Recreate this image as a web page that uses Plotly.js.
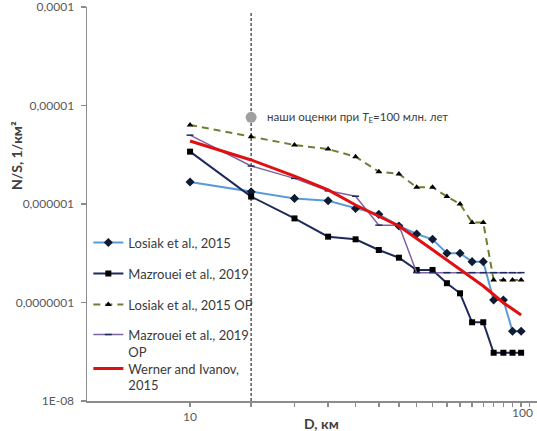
<!DOCTYPE html>
<html>
<head>
<meta charset="utf-8">
<script src="https://cdn.plot.ly/plotly-3.0.1.min.js"></script>
<style>html,body{margin:0;padding:0;background:#fff;overflow:hidden;}#chart{width:537px;height:431px;}</style>
</head>
<body>
<div id="chart"></div>
<script>
// Diameters (km)
const D = [10, 15, 20, 25, 30, 35, 40, 45, 50, 55, 60, 65, 70, 75, 80, 85, 90];
// Series values N/S (1/km^2)
const losiak = [1.67e-6, 1.33e-6, 1.14e-6, 1.08e-6, 9.0e-7, 7.85e-7, 5.98e-7, 4.96e-7, 4.38e-7, 3.16e-7, 3.16e-7, 2.6e-7, 2.6e-7, 1.06e-7, 1.06e-7, 5.1e-8, 5.1e-8];
const mazrouei = [3.4e-6, 1.19e-6, 7.14e-7, 4.66e-7, 4.38e-7, 3.41e-7, 2.85e-7, 2.14e-7, 2.14e-7, 1.57e-7, 1.24e-7, 6.3e-8, 6.3e-8, 3.09e-8, 3.09e-8, 3.09e-8, 3.09e-8];
const losiakOP = [6.34e-6, 4.82e-6, 3.97e-6, 3.61e-6, 3.02e-6, 2.13e-6, 2.02e-6, 1.48e-6, 1.48e-6, 1.19e-6, 1.0e-6, 6.5e-7, 6.5e-7, 1.69e-7, 1.69e-7, 1.69e-7, 1.69e-7];
const mazroueiOP = [5.0e-6, 2.43e-6, 1.82e-6, 1.36e-6, 1.2e-6, 6.1e-7, 6.1e-7, 2.01e-7, 2.01e-7, 2.01e-7, 2.01e-7, 2.01e-7, 2.01e-7, 2.01e-7, 2.01e-7, 2.01e-7, 2.01e-7];
const wernerD = [10, 15, 20, 25, 30, 40, 50, 60, 70, 80, 90];
const werner = [4.36e-6, 2.80e-6, 1.92e-6, 1.39e-6, 9.77e-7, 5.98e-7, 3.43e-7, 2.17e-7, 1.47e-7, 9.95e-8, 7.46e-8];
// Our estimate
const estD = [15];
const estV = [7.58e-6];
const markerLineD = [15, 15];
const markerLineV = [1e-8, 8.7e-5];
// Axis ticks
const xTickVals = [10, 15, 20, 25, 30, 35, 40, 45, 50, 55, 60, 65, 70, 75, 80, 85, 90, 95];
const xTickText = ['10', '', '', '', '', '', '', '', '', '', '', '', '', '', '', '', '', ''];
const xEndLabel = '100';
const yTickVals = [1e-8, 1e-7, 1e-6, 1e-5, 1e-4];
const yTickText = ['1E-08', '0,0000001', '0,000001', '0,00001', '0,0001'];

const FONT = 'Lato, "Liberation Sans", sans-serif';
const LFONT = {family: FONT, size: 13, color: '#3A3A3A'};

const traces = [
  {x: markerLineD, y: markerLineV, mode: 'lines', showlegend: false, hoverinfo: 'skip',
   line: {color: '#595959', width: 1.5, dash: '3px,2px'}},
  {x: estD, y: estV, mode: 'markers', showlegend: false,
   marker: {symbol: 'circle', size: 11, color: '#A0A0A0'}},
  {x: D, y: losiak, name: 'Losiak et al., 2015', legend: 'legend', mode: 'lines+markers',
   line: {color: '#5B9BD5', width: 2}, marker: {symbol: 'diamond', size: 7, color: '#0E1B33'}},
  {x: D, y: mazrouei, name: 'Mazrouei et al., 2019', legend: 'legend2', mode: 'lines+markers',
   line: {color: '#1F2A5C', width: 2}, marker: {symbol: 'square', size: 6, color: '#000000'}},
  {x: D, y: losiakOP, name: 'Losiak et al., 2015 OP', legend: 'legend3', mode: 'lines+markers',
   line: {color: '#6E7F35', width: 2, dash: '7px,5px'}, marker: {symbol: 'triangle-up', size: 6, color: '#000000'}},
  {x: D, y: mazroueiOP, name: 'Mazrouei et al., 2019<br>OP', legend: 'legend4', mode: 'lines+markers',
   line: {color: '#8064A2', width: 1.5}, marker: {symbol: 'line-ew', size: 5, color: '#1F2A5C', line: {color: '#1F2A5C', width: 1.5}}},
  {x: wernerD, y: werner, name: 'Werner and Ivanov,<br>2015', legend: 'legend5', mode: 'lines',
   line: {color: '#E01010', width: 3}}
];

function leg(y) {
  return {x: 0.003, y: y, xanchor: 'left', yanchor: 'top', valign: 'top', bgcolor: 'rgba(255,255,255,0)', font: LFONT};
}

const layout = {
  width: 537, height: 431,
  margin: {l: 87, r: 0, t: 7, b: 30},
  paper_bgcolor: '#ffffff', plot_bgcolor: '#ffffff',
  font: {family: FONT, size: 12, color: '#404040'},
  showlegend: true,
  legend: leg(0.4404),
  legend2: leg(0.3617),
  legend3: leg(0.283),
  legend4: leg(0.2065),
  legend5: leg(0.1205),
  xaxis: {type: 'log', range: [0.703, 2.0], tickmode: 'array', tickvals: xTickVals, ticktext: xTickText,
          showgrid: false, zeroline: false, showline: true, linecolor: '#8C8C8C', linewidth: 1.5,
          ticks: 'outside', ticklen: 4, tickwidth: 1.5, tickcolor: '#8C8C8C', ticklabeloverflow: 'allow',
          tickfont: {family: FONT, size: 12, color: '#595959'}},
  yaxis: {type: 'log', range: [-8, -4], tickmode: 'array', tickvals: yTickVals, ticktext: yTickText,
          showgrid: false, zeroline: false, showline: true, linecolor: '#8C8C8C', linewidth: 1.5,
          ticks: 'outside', ticklen: 5, tickwidth: 1.5, tickcolor: '#8C8C8C', ticklabelstandoff: 4,
          ticklabeloverflow: 'allow',
          tickfont: {family: FONT, size: 12, color: '#595959'}},
  annotations: [
    {xref: 'paper', yref: 'paper', x: -0.158, y: 0.624, xanchor: 'center', yanchor: 'middle', textangle: -90,
     showarrow: false, text: '<b>N/S, 1/км²</b>', font: {family: FONT, size: 14, color: '#404040'}},
    {xref: 'paper', yref: 'paper', x: 0.522, y: -0.056, xanchor: 'center', yanchor: 'middle',
     showarrow: false, text: '<b>D, км</b>', font: {family: FONT, size: 14, color: '#404040'}},
    {xref: 'paper', yref: 'paper', x: 0.996, y: 0, xanchor: 'right', yanchor: 'top', yshift: -2,
     showarrow: false, text: xEndLabel, font: {family: FONT, size: 12, color: '#595959'}},
    {xref: 'x', yref: 'y', x: Math.log10(estD[0]), y: Math.log10(estV[0]), xanchor: 'left', yanchor: 'middle', xshift: 14,
     showarrow: false, text: 'наши оценки при <i>T</i><sub>E</sub>=100 млн. лет', font: {family: FONT, size: 11.5, color: '#404040'}}
  ]
};

Plotly.newPlot('chart', traces, layout, {displayModeBar: false, staticPlot: true});
</script>
</body>
</html>
